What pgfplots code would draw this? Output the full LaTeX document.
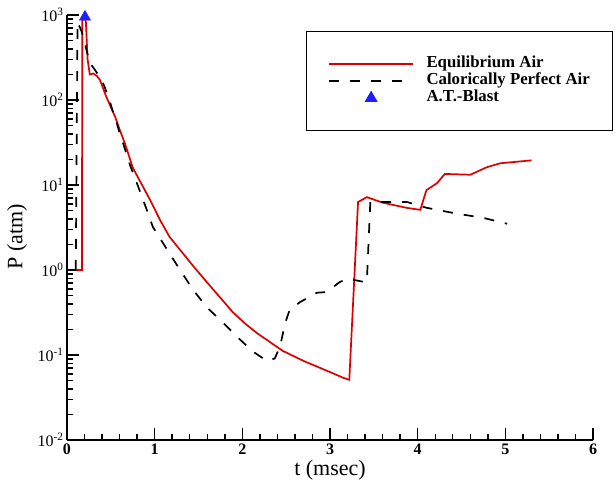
\documentclass[border=0pt]{standalone}
\usepackage{fontspec}
\setmainfont{Liberation Serif}
\usepackage{pgfplots}
\pgfplotsset{compat=1.18}
\definecolor{eqred}{HTML}{DD0000}
\definecolor{blastblue}{HTML}{1E1EFF}
\pgfplotsset{
  wide line legend/.style={legend image code/.code={\draw[##1] (0pt,0pt) -- (84pt,0pt);}},
  wide tri legend/.style={legend image code/.code={\path[draw=none,fill=none] (0pt,0pt) -- (84pt,0pt); \draw[##1] plot coordinates {(42pt,0pt)};}},
}

\begin{document}
\begin{tikzpicture}
\useasboundingbox (-67pt,-46pt) rectangle (549pt,440pt);
\begin{axis}[
  scale only axis, width=526pt, height=425pt,
  ymode=log, xmin=0, xmax=6, ymin=1e-2, ymax=1e3,
  clip=false,
  axis lines*=left,
  axis line style={line width=2.2pt},
  tick align=inside,
  major tick length=12pt, minor tick length=6pt,
  every tick/.style={black, line width=1.4pt},
  xtick={0,1,2,3,4,5,6}, minor x tick num=4,
  xticklabels={0,1,2,3,4,5,6},
  xticklabel style={font=\bfseries\fontsize{16}{16}\selectfont},
  ytick={1e-2,1e-1,1,10,100,1000},
  yticklabels={10\textsuperscript{-2},10\textsuperscript{-1},10\textsuperscript{0},10\textsuperscript{1},10\textsuperscript{2},10\textsuperscript{3}},
  yticklabel style={font=\fontsize{16}{16}\selectfont},
  minor ytick={0.02,0.03,0.04,0.05,0.06,0.07,0.08,0.09,
    0.2,0.3,0.4,0.5,0.6,0.7,0.8,0.9,
    2,3,4,5,6,7,8,9,
    20,30,40,50,60,70,80,90,
    200,300,400,500,600,700,800,900},
  xlabel={t (msec)}, ylabel={P (atm)},
  label style={font=\fontsize{22}{22}\selectfont},
  xlabel style={at={(axis description cs:0.5,-0.072)}, anchor=center},
  ylabel style={at={(axis description cs:-0.095,0.478)}, anchor=center},
  legend style={at={(0.454,0.962)}, anchor=north west, draw=black, line width=1pt,
    inner xsep=22pt, inner ysep=24pt,
    font=\bfseries\fontsize{16.8}{16.8}\selectfont,
    cells={anchor=west}, row sep=0pt, column sep=12pt,
    nodes={inner sep=0.5pt, text height=11.5pt, text depth=4.5pt}},
]
% Equilibrium Air
\addplot[eqred, line width=1.7pt, mark=none, wide line legend] coordinates {
  (0.10,1) (0.17,1) (0.175,870) (0.20,900) (0.215,850) (0.235,300)
  (0.26,200) (0.30,205) (0.34,192) (0.376,172) (0.45,108) (0.55,63)
  (0.60,45) (0.66,31) (0.75,16) (0.95,6.6) (1.06,3.9) (1.17,2.45)
  (1.32,1.58) (1.45,1.08) (1.6,0.71) (1.75,0.47) (1.89,0.32) (2.03,0.235)
  (2.17,0.18) (2.29,0.148) (2.46,0.112) (2.7,0.085)
  (3.0,0.063) (3.15,0.054) (3.22,0.051) (3.32,6.3) (3.42,7.2) (3.6,6.2)
  (3.87,5.4) (4.03,5.1) (4.1,8.7) (4.22,10.5) (4.31,13.5) (4.6,13.2)
  (4.79,16.2) (4.94,18) (5.3,19.5)
};
\addlegendentry{Equilibrium Air}
% Calorically Perfect Air
\addplot[black, line width=1.7pt, dash pattern=on 10pt off 11pt, mark=none, wide line legend] coordinates {
  (0.10,1) (0.12,830) (0.17,630) (0.26,275) (0.32,225) (0.395,172)
  (0.43,142) (0.49,95) (0.525,72) (0.567,54) (0.60,41) (0.64,31)
  (0.72,17) (0.82,9.1) (0.91,5.1) (0.98,3.2) (1.14,1.75) (1.29,1.0)
  (1.44,0.58) (1.6,0.36) (1.78,0.24) (1.95,0.16) (2.12,0.11) (2.28,0.085)
  (2.37,0.091) (2.43,0.126) (2.49,0.24) (2.54,0.34) (2.66,0.42) (2.85,0.54)
  (2.96,0.55) (3.11,0.72) (3.2,0.79) (3.40,0.72) (3.42,0.72) (3.46,6.3)
  (3.6,6.3) (3.88,6.3) (4.1,5.4) (4.22,5.1) (4.45,4.6) (4.75,4.1) (5.02,3.5)
};
\addlegendentry{Calorically Perfect Air}
% A.T.-Blast
\addplot[only marks, mark=triangle*, mark size=6.5pt, blastblue, wide tri legend]
  coordinates {(0.205,950)};
\addlegendentry{A.T.-Blast}
\end{axis}
\end{tikzpicture}
\end{document}
